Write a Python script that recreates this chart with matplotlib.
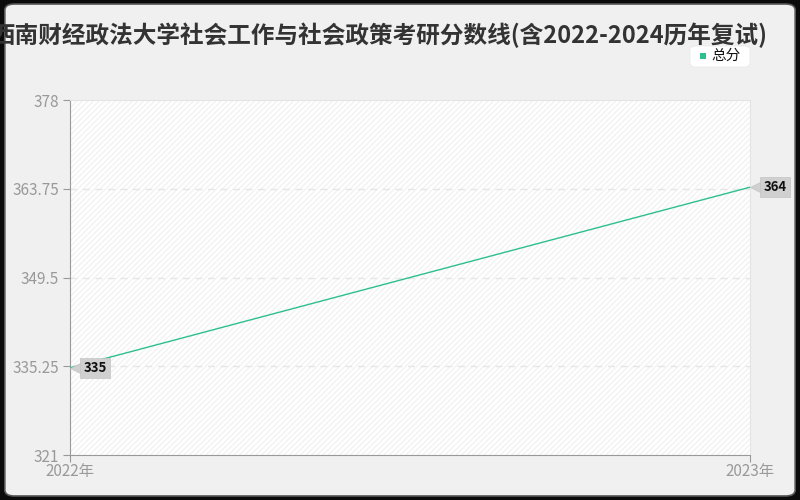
import matplotlib
matplotlib.use("Agg")
import matplotlib.pyplot as plt
from matplotlib.patches import FancyBboxPatch, Rectangle
from matplotlib.transforms import offset_copy

plt.rcParams['font.family'] = ['Noto Sans CJK SC', 'DejaVu Sans']

title = "西南财经政法大学社会工作与社会政策考研分数线(含2022-2024历年复试)"
years = ["2022年", "2023年"]
scores = [335, 364]
series_name = "总分"
yticks = [321, 335.25, 349.5, 363.75, 378]

line_color = "#2dbf8e"

fig = plt.figure(figsize=(8, 5), dpi=100, facecolor="#0a0a0a")
bg = FancyBboxPatch((0.006, 0.008), 0.988, 0.984,
                    boxstyle="round,pad=0,rounding_size=0.012",
                    transform=fig.transFigure, facecolor="#f0f0f0",
                    edgecolor="#555555", linewidth=1.2, zorder=-10)
fig.patches.append(bg)

ax = fig.add_axes([70/800, 45/500, 680/800, 355/500])
ax.set_facecolor("white")
ax.add_patch(Rectangle((0, 0), 1, 1, transform=ax.transAxes, facecolor="none",
                       hatch="//////", edgecolor="#f2f2f2", linewidth=0, zorder=0))

x = list(range(len(years)))
ax.plot(x, scores, color=line_color, linewidth=1, zorder=3)
ax.set_xlim(0, 1)
ax.set_ylim(yticks[0], yticks[-1])
ax.set_yticks(yticks)
ax.set_yticklabels(["321", "335.25", "349.5", "363.75", "378"])
ax.set_xticks(x)
ax.set_xticklabels(years)

for yv in yticks[1:-1]:
    ax.axhline(yv, color="#e6e6e6", linestyle=(0, (5, 4)), linewidth=1, zorder=1)

for s in ["top", "right"]:
    ax.spines[s].set_color("#e4e4e4")
for s in ["left", "bottom"]:
    ax.spines[s].set_color("#999999")
ax.tick_params(axis="both", colors="#999999", labelcolor="#999999", labelsize=11, length=5)
ax.tick_params(axis="y", pad=3)
ax.tick_params(axis="x", pad=1)

for xi, v in zip(x, scores):
    tri = offset_copy(ax.transData, fig=fig, x=6, y=0, units="dots")
    ax.plot([xi], [v], marker="<", markersize=9, color="#d0d0d0", markeredgecolor="#c4c4c4",
            markeredgewidth=0.5, transform=tri, zorder=4, clip_on=False)
    ax.annotate(str(v), (xi, v), xytext=(9.5, 0), textcoords="offset points",
                ha="left", va="center", fontsize=9.5, color="#111111", fontweight="bold",
                bbox=dict(boxstyle="square,pad=0.25", facecolor="#d0d0d0", edgecolor="#c4c4c4", linewidth=0.5),
                zorder=5, annotation_clip=False)

fig.text(-8/800, 1 - 35/500, title, ha="left", va="center", fontsize=17,
         color="#333333", fontweight="bold")

# legend
leg_box = FancyBboxPatch((690/800, 1 - 67/500), 60/800, 21/500,
                         boxstyle="round,pad=0,rounding_size=0.008",
                         transform=fig.transFigure, facecolor="white", edgecolor="#e8e8e8",
                         linewidth=0.5, zorder=5)
fig.patches.append(leg_box)
fig.patches.append(Rectangle((700/800, 1 - 59/500), 6/800, 6/500, transform=fig.transFigure,
                             facecolor=line_color, edgecolor="none", zorder=6))
fig.text(711/800, 1 - 56/500, series_name, ha="left", va="center", fontsize=10.5, color="#111111", zorder=7)

fig.savefig("out.png", dpi=100, facecolor=fig.get_facecolor())
